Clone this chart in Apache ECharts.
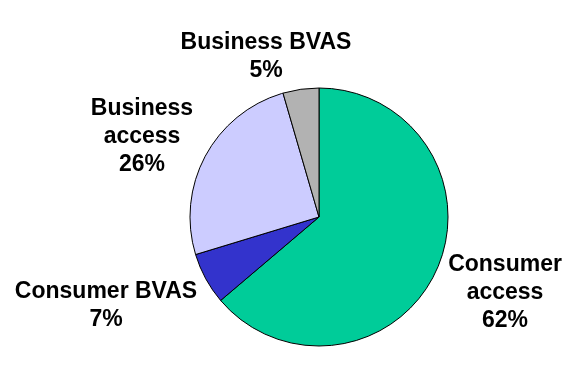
<!DOCTYPE html>
<html>
<head>
<meta charset="utf-8">
<script src="https://cdn.jsdelivr.net/npm/echarts@6/dist/echarts.min.js"></script>
<style>
html,body{margin:0;padding:0;background:#fff;}
#chart{width:585px;height:387px;}
</style>
</head>
<body>
<div id="chart"></div>
<script>
// Category names (line breaks as in the picture)
var categories = ['Consumer\naccess', 'Consumer BVAS', 'Business\naccess', 'Business BVAS'];
// Slice shares as drawn (measured from slice angles)
var sliceValues = [63.8, 6.5, 25.2, 4.5];
// Percentage labels printed on the chart
var percentLabels = [62, 7, 26, 5];
var colors = ['#00CC99', '#3333CC', '#CCCCFF', '#B2B2B2'];

// label anchor positions (layout only)
var labelPos = [[505, 293], [106, 306], [142, 137], [266, 57]];

var chart = echarts.init(document.getElementById('chart'), null, {renderer: 'canvas'});
chart.setOption({
  animation: false,
  backgroundColor: '#ffffff',
  series: [{
    type: 'pie',
    center: [319, 217],
    radius: [0, 129],
    startAngle: 90,
    clockwise: true,
    silent: true,
    itemStyle: {borderColor: '#000000', borderWidth: 1},
    label: {
      show: true,
      position: 'outside',
      formatter: function (p) { return p.name + '\n' + percentLabels[p.dataIndex] + '%'; },
      fontFamily: '"Liberation Sans", Arial, sans-serif',
      fontWeight: 'bold',
      fontSize: 23,
      lineHeight: 28,
      color: '#000000',
      align: 'center',
      overflow: 'none',
      width: 300
    },
    labelLine: {show: false},
    labelLayout: function (params) {
      var pos = labelPos[params.dataIndex];
      return {x: pos[0], y: pos[1], align: 'center', verticalAlign: 'middle'};
    },
    data: categories.map(function (c, i) {
      return {name: c, value: sliceValues[i], itemStyle: {color: colors[i]}};
    })
  }]
});
</script>
</body>
</html>
